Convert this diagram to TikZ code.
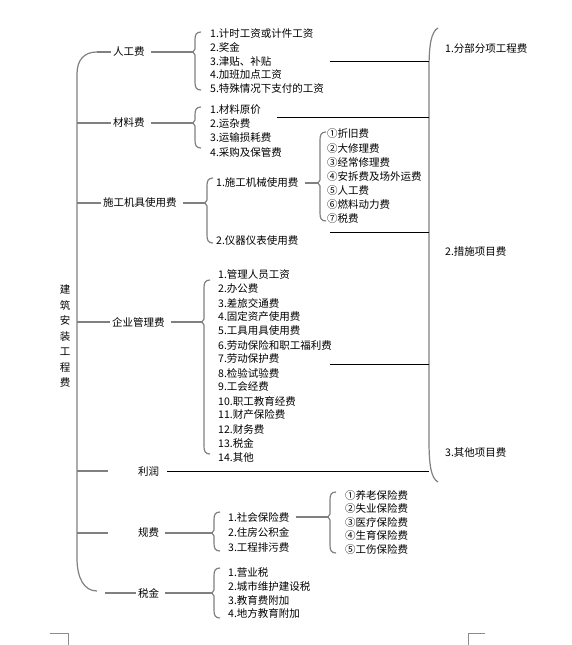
\documentclass[tikz,border=0pt]{standalone}
\usepackage{fontspec}
\newfontfamily\cjk{Noto Sans CJK SC}
\usepackage{tikz}
\usetikzlibrary{calc}
\definecolor{brgray}{RGB}{128,128,128}
\tikzset{
  stem/.style={draw=brgray, line width=1.2pt},
  cnx/.style={stem, shorten <=4pt},
  lnk/.style={draw=black, line width=0.8pt},
  itm/.style={anchor=west, inner xsep=2pt, inner ysep=1pt, font=\cjk\fontsize{10.5}{12}\selectfont},
  cat/.style={itm},
}
\newcommand\wbrace[5]{%
  \draw[stem] ({#1+8},#2) .. controls ({#1+3},#2) and ({#1+2},{#2+3}) .. ({#1+2},{#2+8})
    -- ({#1+2},{#3-3}) -- (#1,#3) -- ({#1+2},{#3+3}) -- ({#1+2},{#4-8})
    .. controls ({#1+2},{#4-3}) and ({#1+3},#4) .. ({#1+8},#4);
  \coordinate (#5) at (#1,#3);
}

\begin{document}
\begin{tikzpicture}[x=1pt,y=-1pt]
  \useasboundingbox (0,0) rectangle (572,645);
  \coordinate (tt) at (97,52);
  \coordinate (tk) at (77,0);
  \coordinate (rb) at (429,0);
  \draw[stem] (tt) .. controls (84,52) and (77,60) .. (77,74) -- (77,558)
    .. controls (77,578) and (84,591) .. (97,591);
  \node[font=\cjk\fontsize{10.5}{15.5}\selectfont, align=center] (ttl) at (65,336.5) {建\\筑\\安\\装\\工\\程\\费};

  \node[cat] (rgf) at (111,52) {人工费};
  \node[cat] (clf) at (111,123) {材料费};
  \node[cat] (jjf) at (101,203) {施工机具使用费};
  \node[cat] (glf) at (110,322) {企业管理费};
  \node[cat] (lr) at (136,471) {利润};
  \node[cat] (gf) at (136,533) {规费};
  \node[cat] (sj) at (136,593) {税金};

  \coordinate (e5) at (108,471);
  \coordinate (e6) at (108,533);
  \coordinate (e7) at (105,593);
  \draw[stem] (tt) -- (rgf.west);
  \foreach \n in {clf,jjf,glf}
    \draw[stem] (\n.west -| tk) -- (\n.west);
  \draw[stem] (lr.west -| tk) -- (e5);
  \draw[stem] (gf.west -| tk) -- (e6);
  \draw[stem] (e7) -- (sj.west);

  \wbrace{193}{32}{52}{90}{b1}
  \wbrace{193}{107}{123}{148}{b2}
  \wbrace{205}{178}{203}{243}{b3}
  \wbrace{318}{132}{183}{221}{b4}
  \wbrace{202}{280}{322}{454}{b5}
  \wbrace{212}{512}{533}{551}{b6}
  \wbrace{328}{492}{517}{553}{b7}
  \wbrace{212}{568}{593}{618}{b8}

  \foreach \t [count=\i] in {计时工资或计件工资,奖金,津贴、补贴,加班加点工资,特殊情况下支付的工资}
    \node[itm] (rg\i) at (208,{33.5+13.8*(\i-1)}) {\i.\t};
  \foreach \t [count=\i] in {材料原价,运杂费,运输损耗费,采购及保管费}
    \node[itm] (cl\i) at (208,{110+14*(\i-1)}) {\i.\t};
  \node[itm] (jx1) at (214,183) {1.施工机械使用费};
  \node[itm] (jx2) at (214,241) {2.仪器仪表使用费};
  \foreach \t [count=\i] in {①折旧费,②大修理费,③经常修理费,④安拆费及场外运费,⑤人工费,⑥燃料动力费,⑦税费}
    \node[itm] (ja\i) at (325,{134+14.1*(\i-1)}) {\t};
  \foreach \t [count=\i] in {管理人员工资,办公费,差旅交通费,固定资产使用费,工具用具使用费,劳动保险和职工福利费,劳动保护费,检验试验费,工会经费,职工教育经费,财产保险费,财务费,税金,其他}
    \node[itm] (gl\i) at (216,{275+14*(\i-1)}) {\i.\t};
  \foreach \t [count=\i] in {社会保险费,住房公积金,工程排污费}
    \node[itm] (gs\i) at (226,{517+15.5*(\i-1)}) {\i.\t};
  \foreach \t [count=\i] in {①养老保险费,②失业保险费,③医疗保险费,④生育保险费,⑤工伤保险费}
    \node[itm] (bx\i) at (343,{495+13.6*(\i-1)}) {\t};
  \foreach \t [count=\i] in {营业税,城市维护建设税,教育费附加,地方教育附加}
    \node[itm] (ss\i) at (226,{573+13.5*(\i-1)}) {\i.\t};

  \draw[cnx] (rgf.east) -- (b1);
  \draw[cnx] (clf.east) -- (b2);
  \draw[cnx] (jjf.east) -- (b3);
  \draw[cnx] (glf.east) -- (b5);
  \draw[cnx] (gf.east) -- (b6);
  \draw[cnx] (sj.east) -- (b8);
  \draw[cnx] (jx1.east) -- (b4);
  \draw[cnx] (gs1.east) -- (b7);

  \draw[stem] (438,28) .. controls (431,32) and (429,45) .. (429,70) -- (429,440)
    .. controls (429,465) and (431,478) .. (438,482);
  \node[itm] (fx1) at (443,49) {1.分部分项工程费};
  \node[itm] (fx2) at (443,252) {2.措施项目费};
  \node[itm] (fx3) at (443,453) {3.其他项目费};

  \coordinate (k1) at (330,61);
  \coordinate (k2) at (277,117);
  \coordinate (k3) at (330,232);
  \coordinate (k4) at (330,364);
  \foreach \k in {k1,k2,k3,k4}
    \draw[lnk] (\k) -- (\k -| rb);
  \draw[lnk, shorten <=6pt] (lr.east) -- (lr.east -| rb);

  \draw[black!45] (50,633) -- (68,633) -- (68,645);
  \draw[black!45] (485,633) -- (468,633) -- (468,645);
\end{tikzpicture}
\end{document}
